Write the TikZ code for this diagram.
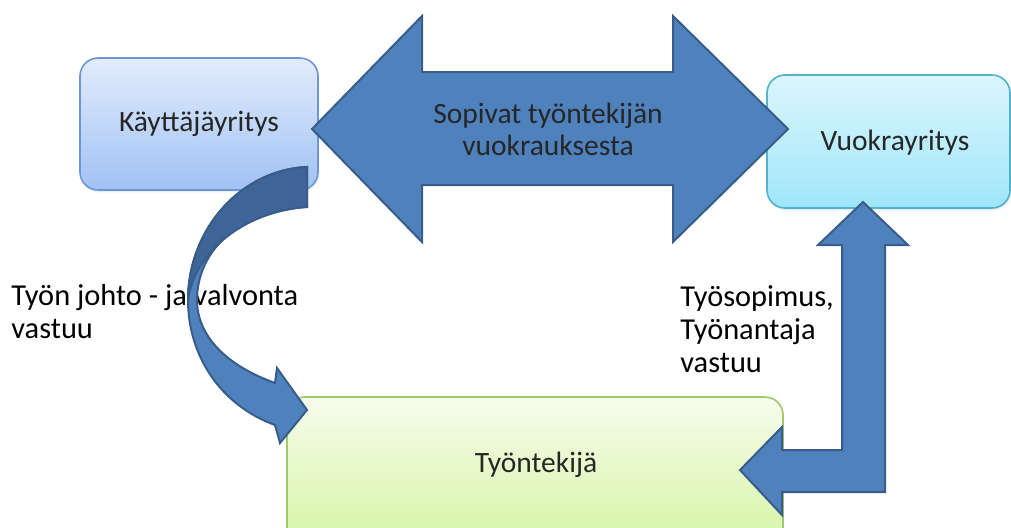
\documentclass[tikz,border=0pt]{standalone}
\usepackage{fontspec}
\setmainfont{Carlito}
\usetikzlibrary{shadows}
\definecolor{arrowfill}{RGB}{79,129,189}
\definecolor{arrowedge}{RGB}{56,93,138}
\definecolor{arrowback}{RGB}{62,100,152}
\definecolor{usertop}{RGB}{226,236,252}
\definecolor{userbottom}{RGB}{160,194,244}
\definecolor{useredge}{RGB}{110,150,212}
\definecolor{renttop}{RGB}{220,246,253}
\definecolor{rentbottom}{RGB}{158,230,249}
\definecolor{rentedge}{RGB}{80,178,205}
\definecolor{workertop}{RGB}{246,252,236}
\definecolor{workerbottom}{RGB}{214,245,166}
\definecolor{workeredge}{RGB}{160,200,110}

\begin{document}
\begin{tikzpicture}[
    x=0.5pt, y=-0.5pt,
    firma/.style={draw, line width=0.8pt, rounded corners=9pt, font=\fontsize{14.75}{16}\selectfont, text=black!85, align=center,
        drop shadow={opacity=0.15, shadow xshift=0.6pt, shadow yshift=-1.2pt}},
    note/.style={font=\fontsize{15.2}{16.5}\selectfont, align=left, anchor=west, inner sep=0pt},
    blockarrow/.style={fill=arrowfill, draw=arrowedge, line width=1pt}
]
    \useasboundingbox (0,0) rectangle (1011,527);
    \clip (0,0) rectangle (1011,527);

    % Companies and the worker
    \node[firma, top color=usertop, bottom color=userbottom, draw=useredge, minimum width=119pt, minimum height=66pt] (kayttaja) at (199,124) {Käyttäjäyritys};
    \node[firma, top color=renttop, bottom color=rentbottom, draw=rentedge, minimum width=121.5pt, minimum height=66.5pt] (vuokra) at (888.5,141.5) {};
    \node[font=\fontsize{14.75}{16}\selectfont, text=black!85] (vuokratext) at (895,143) {Vuokrayritys};
    \node[firma, top color=workertop, bottom color=workerbottom, draw=workeredge, minimum width=248pt, minimum height=74pt] (tyontekija) at (535,471) {};
    \node[font=\fontsize{14.75}{16}\selectfont, text=black!85] (tyontekijatext) at (536,465) {Työntekijä};

    % Responsibilities
    \node[note] (johto) at (11,312) {Työn johto - ja valvonta\\vastuu};
    \node[note] (sopimus) at (680,329) {Työsopimus,\\Työnantaja\\vastuu};

    % Agreement between the companies
    \draw[blockarrow] (312,129) -- (422,16) -- (422,72) -- (673,72) -- (673,16) -- (788,129)
        -- (673,242) -- (673,185) -- (422,185) -- (422,242) -- cycle;

    % Direction and supervision
    \draw[blockarrow] (307,167) .. controls (240,170) and (188,230) .. (188,300)
        .. controls (188,355) and (220,405) .. (275,425) -- (280,443) -- (307,410) -- (277,368) -- (275,383)
        .. controls (225,365) and (197,335) .. (197,300)
        .. controls (197,250) and (240,210) .. (307,207) -- cycle;
    \draw[fill=arrowback, draw=arrowedge, line width=1pt] (307,167) .. controls (240,170) and (188,230) .. (188,300)
        .. controls (194,255) and (240,212) .. (307,207) -- cycle;

    % Employment contract
    \draw[blockarrow] (740,470) -- (782,427) -- (782,450) -- (842,450) -- (842,245) -- (818,245) -- (863,202)
        -- (908,245) -- (885,245) -- (885,492) -- (782,492) -- (782,515) -- cycle;

    \node[font=\fontsize{14.75}{16}\selectfont, text=black!85, align=center] (ehdot) at (548,129) {Sopivat työntekijän\\vuokrauksesta};
\end{tikzpicture}
\end{document}
